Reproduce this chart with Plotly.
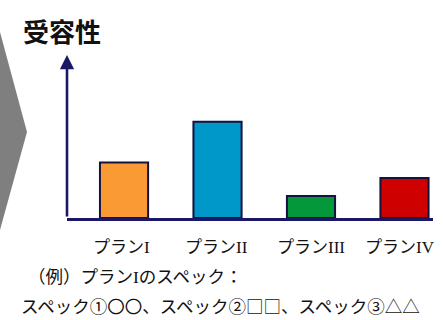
import plotly.graph_objects as go

# Acceptance score per plan
plan_prefix = "プラン"
plan_numerals = ["I", "II", "III", "IV"]
acceptance = [3.4, 5.9, 1.35, 2.45]
bar_colors = ["#F99A35", "#0097C9", "#04983A", "#CF0000"]

title_text = "受容性"
note_head = ["（例）プラン", "I", "のスペック："]
note_spec = "スペック①〇〇、スペック②□□、スペック③△△"

W, H = 443, 320
L, R, T, B = 67, 10, 55, 102
AXIS = "#1b1866"
FONT = "Noto Sans CJK JP"
SERIF = "Liberation Serif"
INK = "#111111"

pw, ph = W - L - R, H - T - B


def px(x):
    return (x - L) / pw


def py(y):
    return (H - B - y) / ph


def serif(s):
    return "<span style='font-family:%s'>%s</span>" % (SERIF, s)


x_idx = list(range(len(plan_numerals)))

fig = go.Figure(
    go.Bar(
        x=x_idx,
        y=acceptance,
        width=0.515,
        marker=dict(color=bar_colors, line=dict(color="#15123f", width=2)),
        hoverinfo="skip",
    )
)

annotations = []

# Vertical axis with arrowhead
annotations.append(dict(
    xref="paper", yref="paper", x=0, y=1,
    axref="pixel", ayref="pixel", ax=0, ay=ph,
    showarrow=True, arrowhead=2, arrowsize=1.1, arrowwidth=2.6,
    arrowcolor=AXIS, text="", standoff=0, startstandoff=0,
))

# Title
annotations.append(dict(
    xref="paper", yref="paper", x=px(21), y=py(31),
    xanchor="left", yanchor="middle", showarrow=False,
    text="<b>%s</b>" % title_text,
    font=dict(family=FONT, size=26, color=INK),
))

# Category labels under the baseline
label_shift = [-3, -1, 0, -4]
for i, (num, dx) in enumerate(zip(plan_numerals, label_shift)):
    annotations.append(dict(
        xref="x", yref="paper", x=i, y=py(246), xshift=dx,
        xanchor="center", yanchor="middle", showarrow=False,
        text=plan_prefix + serif(num),
        font=dict(family=FONT, size=17, color=INK),
    ))

# Example spec note
annotations.append(dict(
    xref="paper", yref="paper", x=px(26), y=py(275),
    xanchor="left", yanchor="middle", showarrow=False,
    text=note_head[0] + serif(note_head[1]) + note_head[2],
    font=dict(family=FONT, size=17.5, color=INK),
))
annotations.append(dict(
    xref="paper", yref="paper", x=px(19), y=py(305),
    xanchor="left", yanchor="middle", showarrow=False,
    text=note_spec, font=dict(family=FONT, size=17.5, color=INK),
))

# Grey chevron at the left edge
cx = [px(v) for v in (-3, 27, -3)]
cy = [py(v) for v in (21, 132, 241)]
chevron = dict(
    type="path", xref="paper", yref="paper",
    path="M %f,%f L %f,%f L %f,%f Z" % (cx[0], cy[0], cx[1], cy[1], cx[2], cy[2]),
    fillcolor="#7f7f7f", line=dict(width=0), layer="below",
)

fig.update_layout(
    width=W, height=H,
    margin=dict(l=L, r=R, t=T, b=B, pad=0),
    paper_bgcolor="white", plot_bgcolor="white",
    showlegend=False,
    annotations=annotations,
    shapes=[chevron],
    xaxis=dict(
        range=[-0.61, 3.305], showgrid=False, zeroline=False,
        showticklabels=False, ticks="", showline=True,
        linecolor=AXIS, linewidth=3, fixedrange=True,
    ),
    yaxis=dict(
        range=[0, 10], showgrid=False, zeroline=False,
        showticklabels=False, ticks="", showline=False, fixedrange=True,
    ),
)

fig.write_html("out.html", config={"displayModeBar": False})
